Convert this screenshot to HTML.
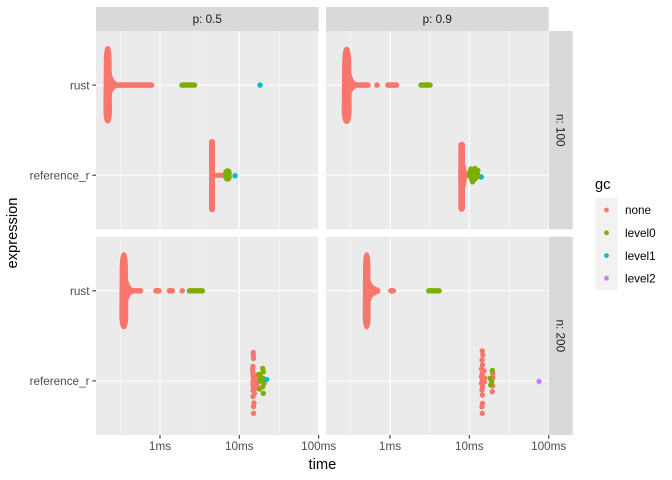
<!DOCTYPE html>
<html>
<head>
<meta charset="utf-8">
<style>
html,body{margin:0;padding:0;background:#fff;}
svg{display:block;}
text{font-family:"Liberation Sans",sans-serif;}
</style>
</head>
<body>
<svg width="672" height="480" viewBox="0 0 672 480" xmlns="http://www.w3.org/2000/svg">
<defs>
<clipPath id="cTL"><rect x="96" y="31" width="222.7" height="198.3"/></clipPath>
<clipPath id="cTR"><rect x="326" y="31" width="222.7" height="198.3"/></clipPath>
<clipPath id="cBL"><rect x="96" y="236.7" width="222.7" height="198.3"/></clipPath>
<clipPath id="cBR"><rect x="326" y="236.7" width="222.7" height="198.3"/></clipPath>
</defs>
<rect width="672" height="480" fill="#fff"/>

<!-- strips top -->
<rect x="96" y="7" width="222.7" height="24" fill="#D9D9D9"/>
<rect x="326" y="7" width="222.7" height="24" fill="#D9D9D9"/>
<text x="207.3" y="23" font-size="11.73" fill="#1A1A1A" text-anchor="middle">p: 0.5</text>
<text x="437.3" y="23" font-size="11.73" fill="#1A1A1A" text-anchor="middle">p: 0.9</text>
<!-- strips right -->
<rect x="548.7" y="31" width="24" height="198.3" fill="#D9D9D9"/>
<rect x="548.7" y="236.7" width="24" height="198.3" fill="#D9D9D9"/>
<text transform="translate(556.6,130.2) rotate(90)" font-size="11.73" fill="#1A1A1A" text-anchor="middle">n: 100</text>
<text transform="translate(556.6,335.8) rotate(90)" font-size="11.73" fill="#1A1A1A" text-anchor="middle">n: 200</text>

<!-- panels -->
<g clip-path="url(#cTL)">
<rect x="96" y="31" width="222.7" height="198.3" fill="#EBEBEB"/>
<g stroke="#fff" stroke-width="0.55"><line x1="120.7" y1="31" x2="120.7" y2="230"/><line x1="200" y1="31" x2="200" y2="230"/><line x1="279.3" y1="31" x2="279.3" y2="230"/></g>
<g stroke="#fff" stroke-width="1.1"><line x1="160" y1="31" x2="160" y2="230"/><line x1="239.3" y1="31" x2="239.3" y2="230"/><line x1="318.7" y1="31" x2="318.7" y2="230"/><line x1="96" y1="85.1" x2="319" y2="85.1"/><line x1="96" y1="175.2" x2="319" y2="175.2"/></g>
</g>
<g clip-path="url(#cTR)">
<rect x="326" y="31" width="222.7" height="198.3" fill="#EBEBEB"/>
<g stroke="#fff" stroke-width="0.55"><line x1="350.7" y1="31" x2="350.7" y2="230"/><line x1="430" y1="31" x2="430" y2="230"/><line x1="509.3" y1="31" x2="509.3" y2="230"/></g>
<g stroke="#fff" stroke-width="1.1"><line x1="390" y1="31" x2="390" y2="230"/><line x1="469.3" y1="31" x2="469.3" y2="230"/><line x1="548.7" y1="31" x2="548.7" y2="230"/><line x1="326" y1="85.1" x2="549" y2="85.1"/><line x1="326" y1="175.2" x2="549" y2="175.2"/></g>
</g>
<g clip-path="url(#cBL)">
<rect x="96" y="236.7" width="222.7" height="198.3" fill="#EBEBEB"/>
<g stroke="#fff" stroke-width="0.55"><line x1="120.7" y1="236" x2="120.7" y2="436"/><line x1="200" y1="236" x2="200" y2="436"/><line x1="279.3" y1="236" x2="279.3" y2="436"/></g>
<g stroke="#fff" stroke-width="1.1"><line x1="160" y1="236" x2="160" y2="436"/><line x1="239.3" y1="236" x2="239.3" y2="436"/><line x1="318.7" y1="236" x2="318.7" y2="436"/><line x1="96" y1="290.8" x2="319" y2="290.8"/><line x1="96" y1="380.9" x2="319" y2="380.9"/></g>
</g>
<g clip-path="url(#cBR)">
<rect x="326" y="236.7" width="222.7" height="198.3" fill="#EBEBEB"/>
<g stroke="#fff" stroke-width="0.55"><line x1="350.7" y1="236" x2="350.7" y2="436"/><line x1="430" y1="236" x2="430" y2="436"/><line x1="509.3" y1="236" x2="509.3" y2="436"/></g>
<g stroke="#fff" stroke-width="1.1"><line x1="390" y1="236" x2="390" y2="436"/><line x1="469.3" y1="236" x2="469.3" y2="436"/><line x1="548.7" y1="236" x2="548.7" y2="436"/><line x1="326" y1="290.8" x2="549" y2="290.8"/><line x1="326" y1="380.9" x2="549" y2="380.9"/></g>
</g>

<!-- ===== DATA ===== -->
<!-- TL rust -->
<g fill="#F8766D" stroke="#F8766D" stroke-linecap="round">
<path d="M107.7,46 C110.6,46 111.3,50 111.6,60 L112,110 C111.8,120 110.5,123.5 107.7,123.5 C104.9,123.5 103.6,120 103.4,110 L103.8,60 C104.1,50 104.8,46 107.7,46 Z" stroke="none"/>
<path d="M111,70 Q113,81 117,82 L117,88 Q113,89 111,97 Z" stroke="none"/>
<line x1="112" y1="85.1" x2="151.5" y2="85.1" stroke-width="5.6"/>
</g>
<line x1="182" y1="85.1" x2="194.6" y2="85.1" stroke="#7CAE00" stroke-width="5.4" stroke-linecap="round"/>
<circle cx="260" cy="85.1" r="2.7" fill="#00BFC4"/>
<!-- TL ref_r -->
<g fill="#F8766D" stroke="#F8766D" stroke-linecap="round">
<rect x="209" y="139" width="6" height="73.3" rx="3" stroke="none"/>
<line x1="214" y1="175.2" x2="225" y2="175.2" stroke-width="5"/>
</g>
<rect x="223.3" y="168.3" width="8.4" height="13.4" rx="4.2" fill="#7CAE00"/>
<circle cx="235" cy="175.7" r="2.7" fill="#00BFC4"/>

<!-- TR rust -->
<g fill="#F8766D" stroke="#F8766D" stroke-linecap="round">
<path d="M346.7,46.7 C349.8,46.7 350.8,51 351.2,61 L351.7,110 C351.4,120 350,124 346.7,124 C343.4,124 342,120 341.7,110 L342.2,61 C342.6,51 343.6,46.7 346.7,46.7 Z" stroke="none"/>
<path d="M350.5,70 Q352.5,81 356.5,82 L356.5,88 Q352.5,89 350.5,97 Z" stroke="none"/>
<line x1="351" y1="85.1" x2="368" y2="85.1" stroke-width="5.6"/>
<circle cx="377" cy="85.1" r="2.8" stroke="none"/>
<line x1="388" y1="85.1" x2="396.5" y2="85.1" stroke-width="5.6"/>
</g>
<line x1="421" y1="85.1" x2="430" y2="85.1" stroke="#7CAE00" stroke-width="5.4" stroke-linecap="round"/>
<!-- TR ref_r -->
<g fill="#F8766D" stroke="#F8766D" stroke-linecap="round">
<rect x="458.3" y="141.7" width="6.7" height="70" rx="3.3" stroke="none"/>
<ellipse cx="462.5" cy="176" rx="4.3" ry="15" stroke="none"/>
<line x1="465" y1="175.2" x2="470" y2="175.2" stroke-width="5"/>
</g>
<circle cx="481.3" cy="177" r="2.7" fill="#00BFC4"/>
<g fill="#7CAE00">
<circle cx="471" cy="169" r="2.7"/><circle cx="475" cy="168.5" r="2.7"/><circle cx="477.8" cy="170.5" r="2.7"/>
<circle cx="469.5" cy="172.5" r="2.7"/><circle cx="473.5" cy="173" r="2.7"/><circle cx="477.5" cy="174" r="2.7"/>
<circle cx="469.7" cy="176" r="2.7"/><circle cx="474" cy="176" r="2.7"/><circle cx="478" cy="176.5" r="2.7"/>
<circle cx="471.5" cy="179" r="2.7"/><circle cx="475" cy="179" r="2.7"/><circle cx="472.5" cy="181.8" r="2.7"/>
</g>

<!-- BL rust -->
<g fill="#F8766D" stroke="#F8766D" stroke-linecap="round">
<path d="M123.8,252.3 C126.8,252.3 127.6,257 127.9,267 L128.3,315 C128.1,325 126.8,329.3 123.8,329.3 C120.8,329.3 119.5,325 119.3,315 L119.7,267 C120,257 120.8,252.3 123.8,252.3 Z" stroke="none"/>
<path d="M127.5,277 Q129.5,287 133,288 L133,293.6 Q129.5,294.6 127.5,304 Z" stroke="none"/>
<line x1="128" y1="290.8" x2="140.6" y2="290.8" stroke-width="5.6"/>
<line x1="156" y1="290.8" x2="159" y2="290.8" stroke-width="5.6"/>
<line x1="169.4" y1="290.8" x2="172.3" y2="290.8" stroke-width="5.6"/>
<circle cx="182.2" cy="290.8" r="2.8" stroke="none"/>
</g>
<line x1="189.4" y1="290.8" x2="202.3" y2="290.8" stroke="#7CAE00" stroke-width="5.4" stroke-linecap="round"/>
<!-- BL ref_r -->
<g fill="#F8766D">
<circle cx="253.3" cy="352.5" r="2.7"/><circle cx="253.3" cy="355.5" r="2.7"/><circle cx="253.5" cy="358.5" r="2.7"/>
<circle cx="253" cy="366.5" r="2.7"/><circle cx="252.5" cy="369.5" r="2.7"/><circle cx="253" cy="372.5" r="2.7"/>
<circle cx="253" cy="375.5" r="2.7"/><circle cx="257.5" cy="375" r="2.7"/><circle cx="253.5" cy="378.5" r="2.7"/>
<circle cx="257" cy="378.5" r="2.7"/><circle cx="253" cy="381.5" r="2.7"/><circle cx="256.5" cy="381.5" r="2.7"/>
<circle cx="253" cy="384.5" r="2.7"/><circle cx="257" cy="384.5" r="2.7"/><circle cx="253.5" cy="387.5" r="2.7"/>
<circle cx="256.5" cy="388" r="2.7"/><circle cx="253" cy="390.5" r="2.7"/><circle cx="254.5" cy="393.5" r="2.7"/>
<circle cx="253" cy="396.5" r="2.7"/><circle cx="254" cy="403" r="2.7"/><circle cx="253.5" cy="406.5" r="2.7"/>
<circle cx="253.5" cy="413.3" r="2.7"/>
</g>
<g fill="#7CAE00">
<circle cx="262.7" cy="368.5" r="2.7"/><circle cx="263.3" cy="371.7" r="2.7"/><circle cx="259" cy="374.5" r="2.7"/>
<circle cx="260.5" cy="376.5" r="2.7"/><circle cx="263" cy="378.3" r="2.7"/><circle cx="260" cy="381" r="2.7"/>
<circle cx="264" cy="383.3" r="2.7"/><circle cx="262.7" cy="386.7" r="2.7"/><circle cx="259.5" cy="389" r="2.7"/>
<circle cx="263.3" cy="393.3" r="2.7"/>
</g>
<circle cx="266.7" cy="379.5" r="2.7" fill="#00BFC4"/>

<!-- BR rust -->
<g fill="#F8766D" stroke="#F8766D" stroke-linecap="round">
<path d="M366.7,252.3 C369.4,252.3 370.2,257 370.4,267 L370.7,315 C370.5,325 369.4,329.3 366.7,329.3 C364,329.3 362.9,325 362.7,315 L363,267 C363.2,257 364,252.3 366.7,252.3 Z" stroke="none"/>
<path d="M370,278 Q372,286 376,286.5 L376,295 Q372,295.5 370,304 Z" stroke="none"/>
<line x1="370" y1="290.8" x2="377" y2="290.8" stroke-width="7"/>
<line x1="391" y1="290.8" x2="393.3" y2="290.8" stroke-width="5.6"/>
</g>
<line x1="428.7" y1="290.8" x2="439" y2="290.8" stroke="#7CAE00" stroke-width="5.4" stroke-linecap="round"/>
<!-- BR ref_r -->
<g fill="#F8766D">
<circle cx="482.3" cy="351" r="2.7"/><circle cx="482.8" cy="355" r="2.7"/><circle cx="482" cy="360" r="2.7"/>
<circle cx="482.5" cy="365" r="2.7"/><circle cx="481.5" cy="369" r="2.7"/><circle cx="484" cy="371" r="2.7"/>
<circle cx="482.3" cy="373.3" r="2.7"/><circle cx="481.5" cy="376.7" r="2.7"/><circle cx="484.5" cy="378" r="2.7"/>
<circle cx="482.3" cy="380" r="2.7"/><circle cx="484.5" cy="382" r="2.7"/><circle cx="481.5" cy="383.3" r="2.7"/>
<circle cx="482.5" cy="386.7" r="2.7"/><circle cx="482" cy="390" r="2.7"/><circle cx="482.3" cy="395" r="2.7"/>
<circle cx="482.5" cy="403.3" r="2.7"/><circle cx="482" cy="406.7" r="2.7"/><circle cx="482.3" cy="413.3" r="2.7"/>
<circle cx="492.7" cy="373.3" r="2.7"/><circle cx="492.7" cy="377.7" r="2.7"/><circle cx="492.7" cy="386" r="2.7"/>
<circle cx="492.3" cy="391.7" r="2.7"/>
</g>
<g fill="#7CAE00">
<circle cx="492.3" cy="370.5" r="2.7"/><circle cx="490" cy="378.3" r="2.7"/><circle cx="491.7" cy="381.7" r="2.7"/>
<circle cx="490.7" cy="385" r="2.7"/>
</g>
<circle cx="539" cy="381.5" r="2.7" fill="#C77CFF"/>

<!-- y axis ticks & labels -->
<g stroke="#333" stroke-width="1.07">
<line x1="92.3" y1="85.1" x2="96" y2="85.1"/><line x1="92.3" y1="175.2" x2="96" y2="175.2"/>
<line x1="92.3" y1="290.8" x2="96" y2="290.8"/><line x1="92.3" y1="380.9" x2="96" y2="380.9"/>
</g>
<g font-size="11.73" fill="#4D4D4D" text-anchor="end">
<text x="89.5" y="89.3">rust</text>
<text x="89.5" y="179.4">reference_r</text>
<text x="89.5" y="295">rust</text>
<text x="89.5" y="385.1">reference_r</text>
</g>

<!-- x axis ticks & labels -->
<g stroke="#333" stroke-width="1.07">
<line x1="160" y1="435" x2="160" y2="438.7"/><line x1="239.3" y1="435" x2="239.3" y2="438.7"/><line x1="318.7" y1="435" x2="318.7" y2="438.7"/>
<line x1="390" y1="435" x2="390" y2="438.7"/><line x1="469.3" y1="435" x2="469.3" y2="438.7"/><line x1="548.7" y1="435" x2="548.7" y2="438.7"/>
</g>
<g font-size="11.73" fill="#4D4D4D" text-anchor="middle">
<text x="160" y="450">1ms</text><text x="239.3" y="450">10ms</text><text x="318.7" y="450">100ms</text>
<text x="390" y="450">1ms</text><text x="469.3" y="450">10ms</text><text x="548.7" y="450">100ms</text>
</g>

<!-- axis titles -->
<text x="322.4" y="468.8" font-size="14.67" fill="#000" text-anchor="middle">time</text>
<text transform="translate(17,233) rotate(-90)" font-size="14.67" fill="#000" text-anchor="middle">expression</text>

<!-- legend -->
<text x="595" y="189" font-size="14.67" fill="#000">gc</text>
<rect x="595" y="197.7" width="22.7" height="92.3" fill="#F2F2F2"/>
<circle cx="606.5" cy="210" r="2.4" fill="#F8766D"/>
<circle cx="606.5" cy="232.8" r="2.4" fill="#7CAE00"/>
<circle cx="606.5" cy="255.6" r="2.4" fill="#00BFC4"/>
<circle cx="606.5" cy="278.3" r="2.4" fill="#C77CFF"/>
<g font-size="11.73" fill="#000">
<text x="625" y="214.2">none</text>
<text x="625" y="237">level0</text>
<text x="625" y="259.8">level1</text>
<text x="625" y="282.5">level2</text>
</g>
</svg>
</body>
</html>
